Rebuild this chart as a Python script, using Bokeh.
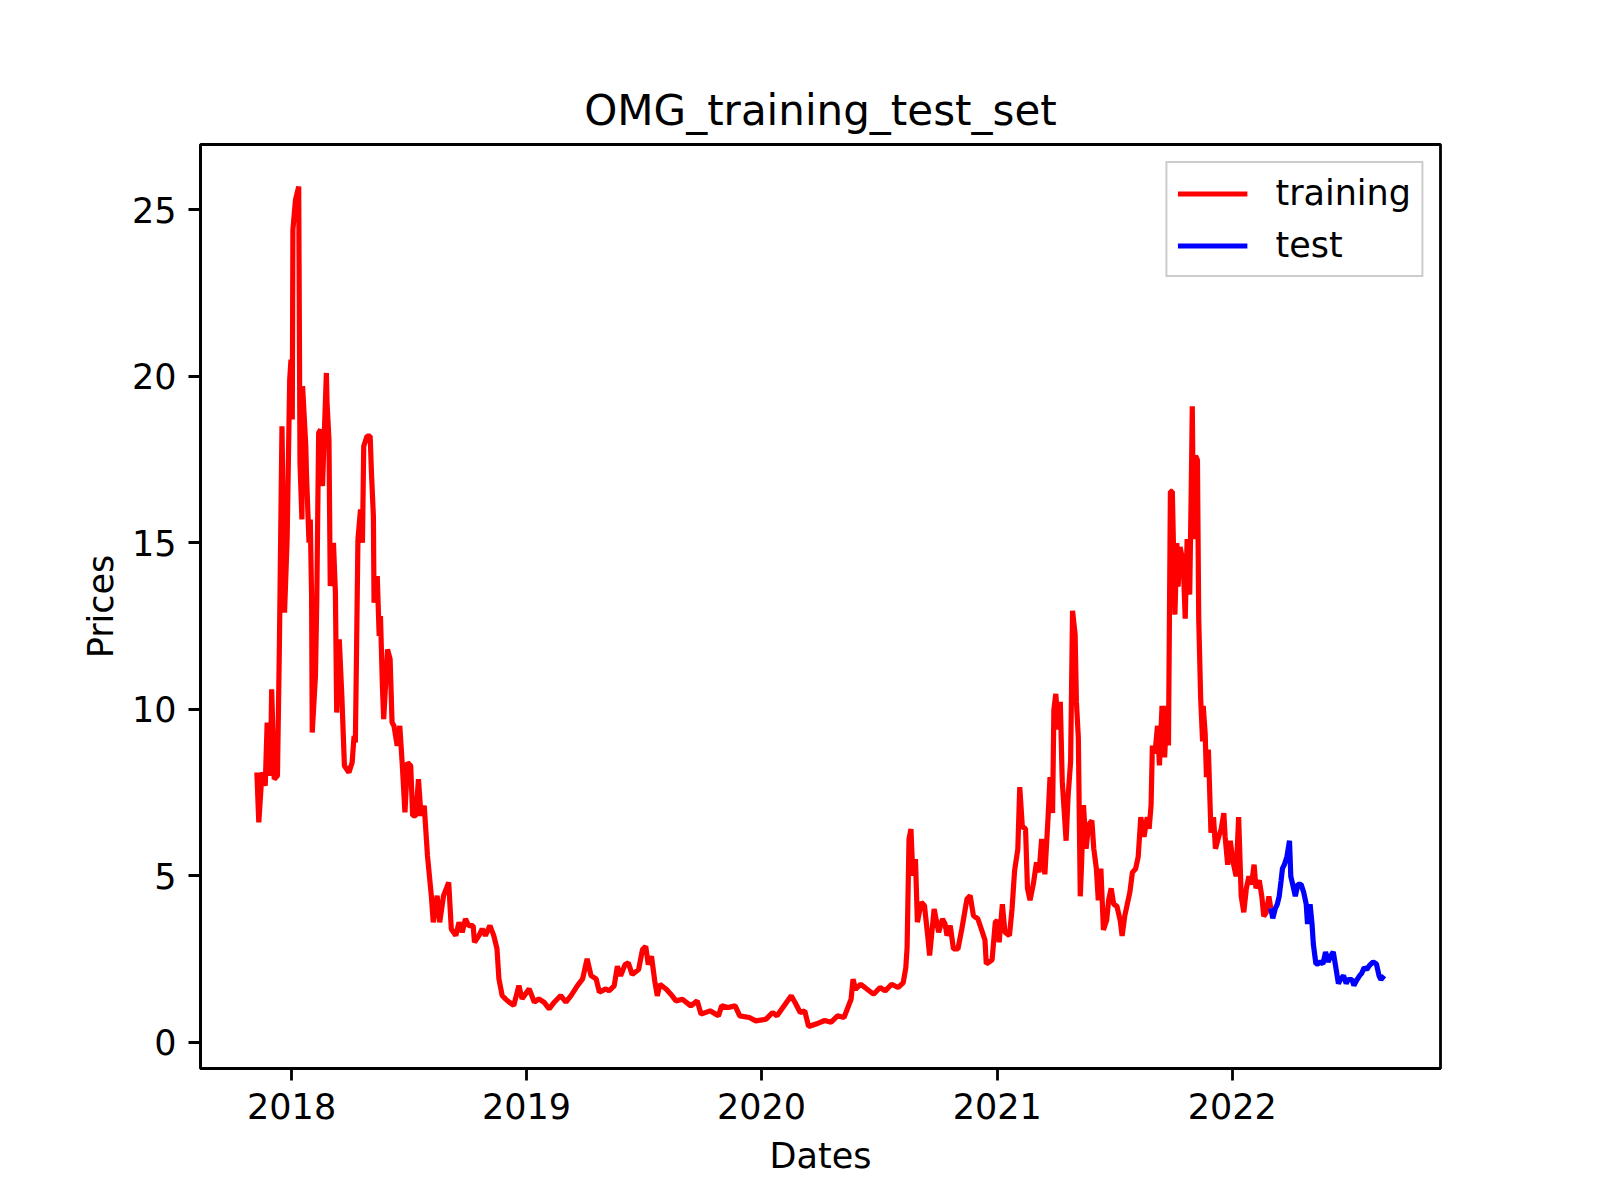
import pandas as pd
from bokeh.embed import file_html
from bokeh.models import DatetimeTickFormatter, FixedTicker, Legend, Range1d
from bokeh.plotting import figure
from bokeh.resources import INLINE

# day numbers are counted from this date
START_DATE = "2017-11-01"

train_days = [
    7, 10, 15, 20, 23, 28, 30, 34, 39, 42,
    46, 50, 54, 58, 60, 62, 63, 67, 72, 74,
    77, 78, 83, 84, 88, 90, 92, 93, 98, 100,
    103, 106, 109, 115, 116, 119, 121, 126, 129, 131,
    135, 139, 143, 150, 155, 158, 160, 162, 164, 168,
    171, 173, 178, 183, 185, 188, 189, 194, 197, 199,
    202, 204, 210, 214, 217, 220, 225, 229, 233, 237,
    241, 246, 249, 254, 258, 262, 267, 272, 278, 281,
    287, 291, 297, 305, 309, 316, 321, 326, 331, 336,
    343, 345, 352, 357, 362, 369, 375, 380, 383, 388,
    393, 399, 406, 414, 419, 430, 438, 445, 453, 461,
    469, 479, 487, 495, 505, 513, 520, 526, 534, 539,
    549, 554, 562, 567, 572, 579, 584, 590, 600, 606,
    611, 615, 620, 625, 629, 633, 643, 650, 658, 668,
    681, 691, 697, 711, 724, 729, 739, 750, 757, 772,
    782, 798, 808, 815, 826, 837, 843, 851, 858, 864,
    879, 889, 899, 909, 919, 924, 930, 933, 937, 945,
    955, 965, 975, 983, 993, 1003, 1011, 1015, 1017, 1020,
    1023, 1026, 1030, 1033, 1039, 1044, 1049, 1052, 1059, 1066,
    1072, 1076, 1079, 1084, 1089, 1096, 1102, 1110, 1115, 1120,
    1127, 1134, 1138, 1140, 1144, 1149, 1154, 1157, 1160, 1165,
    1169, 1176, 1180, 1184, 1189, 1192, 1196, 1201, 1204, 1208,
    1213, 1218, 1222, 1226, 1231, 1236, 1239, 1243, 1245, 1248,
    1252, 1255, 1258, 1264, 1267, 1271, 1274, 1278, 1280, 1283,
    1286, 1288, 1291, 1295, 1299, 1304, 1307, 1311, 1314, 1318,
    1322, 1327, 1330, 1334, 1338, 1343, 1348, 1351, 1355, 1359,
    1363, 1367, 1372, 1376, 1380, 1385, 1390, 1393, 1396, 1398,
    1402, 1406, 1409, 1413, 1417, 1421, 1423, 1426, 1429, 1433,
    1436, 1438, 1441, 1446, 1449, 1452, 1456, 1459, 1460, 1462,
    1465, 1468, 1470, 1473, 1476, 1477, 1480, 1482, 1485, 1489,
    1493, 1496, 1501, 1505, 1509, 1511, 1515, 1519, 1523, 1528,
    1532, 1536, 1540, 1544, 1548, 1552, 1556, 1559, 1564, 1568,
    1571, 1575, 1579, 1582,
]
train_prices = [
    8.1, 6.6, 8.1, 7.7, 9.6, 8.0, 10.6, 7.9, 8.0, 11.9,
    18.5, 12.9, 15.1, 19.9, 20.5, 18.7, 24.4, 25.3, 25.7, 17.4,
    15.7, 19.7, 17.9, 17.1, 15.0, 15.7, 13.4, 9.3, 11.0, 13.2,
    18.3, 18.4, 16.7, 20.1, 19.2, 18.1, 13.7, 15.0, 13.5, 9.9,
    12.1, 10.4, 8.3, 8.1, 8.4, 9.2, 9.0, 12.0, 15.1, 16.0,
    15.0, 17.9, 18.2, 18.2, 17.1, 15.8, 13.2, 14.0, 12.2, 12.8,
    10.7, 9.7, 11.8, 11.5, 9.6, 9.5, 8.9, 9.5, 8.3, 6.9,
    8.4, 8.3, 6.8, 6.8, 7.9, 6.8, 7.1, 5.6, 4.4, 3.6,
    4.4, 3.6, 4.4, 4.8, 3.4, 3.2, 3.6, 3.3, 3.7, 3.5,
    3.5, 3.0, 3.2, 3.4, 3.2, 3.5, 3.2, 2.8, 1.9, 1.4,
    1.3, 1.2, 1.1, 1.7, 1.3, 1.6, 1.2, 1.3, 1.2, 1.0,
    1.2, 1.4, 1.2, 1.4, 1.7, 1.9, 2.5, 2.0, 1.9, 1.5,
    1.6, 1.54, 1.69, 2.28, 1.99, 2.33, 2.38, 2.03, 2.18, 2.78,
    2.88, 2.33, 2.58, 1.84, 1.39, 1.74, 1.59, 1.44, 1.24, 1.29,
    1.09, 1.24, 0.84, 0.94, 0.79, 1.09, 1.04, 1.09, 0.79, 0.74,
    0.64, 0.69, 0.89, 0.79, 1.09, 1.39, 1.19, 0.89, 0.94, 0.47,
    0.57, 0.65, 0.6, 0.79, 0.74, 0.99, 1.29, 1.89, 1.59, 1.74,
    1.59, 1.44, 1.64, 1.54, 1.74, 1.64, 1.79, 2.23, 2.83, 6.1,
    6.4, 5.0, 5.5, 3.6, 4.2, 4.1, 3.2, 2.6, 4.0, 3.3,
    3.7, 3.55, 3.2, 3.5, 2.8, 2.8, 3.4, 4.3, 4.4, 3.8,
    3.7, 3.3, 3.06, 2.35, 2.4, 2.47, 3.6, 3.66, 3.0, 4.14,
    3.3, 3.2, 4.0, 5.15, 5.8, 7.66, 6.47, 6.41, 4.62, 4.26,
    4.74, 5.4, 5.1, 6.1, 5.04, 6.76, 7.96, 6.88, 9.98, 10.46,
    9.39, 10.22, 7.84, 6.05, 7.36, 8.43, 12.96, 12.25, 10.22, 9.15,
    4.38, 5.33, 7.12, 5.81, 6.53, 6.65, 5.81, 5.21, 4.26, 5.21,
    3.37, 3.66, 4.26, 4.62, 4.14, 4.08, 3.66, 3.19, 3.78, 4.14,
    4.5, 5.1, 5.21, 5.57, 6.76, 6.17, 6.76, 6.41, 7.12, 8.91,
    8.67, 9.5, 8.31, 10.1, 8.55, 10.1, 8.91, 16.54, 16.54, 12.84,
    14.99, 13.68, 14.87, 14.39, 12.72, 15.11, 13.44, 17.49, 19.1, 15.11,
    17.61, 17.49, 12.72, 10.34, 9.03, 10.1, 9.27, 7.96, 8.79, 6.29,
    6.76, 5.81, 6.17, 6.41, 6.88, 6.17, 5.33, 6.05, 5.45, 4.98,
    6.76, 4.38, 3.9, 4.62, 4.98, 4.74, 5.33, 4.62, 4.86, 4.38,
    3.78, 3.9, 4.38, 4.02,
]

test_days = [
    1582, 1585, 1589, 1592, 1595, 1598, 1600, 1603, 1607, 1611,
    1613, 1616, 1620, 1624, 1629, 1633, 1637, 1639, 1643, 1646,
    1648, 1652, 1655, 1659, 1663, 1667, 1671, 1675, 1679, 1683,
    1687, 1690, 1695, 1699, 1702, 1708, 1711, 1716, 1720, 1723,
    1727, 1731, 1735, 1741, 1746, 1750, 1753, 1758,
]
test_prices = [
    4.02, 3.72, 4.02, 4.14, 4.38, 4.86, 5.21, 5.33, 5.57, 6.05,
    4.98, 4.74, 4.38, 4.74, 4.74, 4.5, 4.14, 3.55, 4.14, 3.55,
    2.95, 2.35, 2.35, 2.41, 2.35, 2.71, 2.41, 2.59, 2.71, 2.24,
    1.76, 1.88, 2.0, 1.76, 1.88, 1.88, 1.7, 1.88, 2.0, 2.06,
    2.24, 2.18, 2.3, 2.41, 2.35, 2.0, 1.88, 2.0,
]

year_ticks = ["2018-01-01", "2019-01-01", "2020-01-01", "2021-01-01", "2022-01-01"]
price_ticks = [0, 5, 10, 15, 20, 25]

FONT = "DejaVu Sans"

start = pd.Timestamp(START_DATE)
train_dates = start + pd.to_timedelta(train_days, unit="D")
test_dates = start + pd.to_timedelta(test_days, unit="D")

# 5% padding around the data, like matplotlib's default margins
x0, x1 = train_dates.min(), test_dates.max()
xpad = (x1 - x0) * 0.05
all_prices = train_prices + test_prices
y0, y1 = min(all_prices), max(all_prices)
ypad = (y1 - y0) * 0.05

p = figure(width=1584, height=1184,
           x_axis_type="datetime",
           x_range=Range1d((x0 - xpad).to_pydatetime(), (x1 + xpad).to_pydatetime()),
           y_range=Range1d(y0 - ypad, y1 + ypad),
           title="OMG_training_test_set",
           toolbar_location=None,
           output_backend="svg",
           min_border_left=200, min_border_right=144,
           min_border_top=144, min_border_bottom=116)

r_train = p.line(train_dates, train_prices, color="red", line_width=5.2)
r_test = p.line(test_dates, test_prices, color="blue", line_width=5.2)

p.title.text_font = FONT
p.title.text_font_size = "42px"
p.title.text_font_style = "normal"
p.title.text_color = "black"
p.title.align = "center"
p.title.standoff = 20

p.xgrid.visible = False
p.ygrid.visible = False
p.outline_line_color = "black"
p.outline_line_width = 2.8
p.outline_line_alpha = 1.0

p.xaxis.ticker = FixedTicker(ticks=[pd.Timestamp(t).value / 1e6 for t in year_ticks])
p.xaxis.formatter = DatetimeTickFormatter(years="%Y", months="%Y", days="%Y",
                                          hours="%Y", minutes="%Y")
p.yaxis.ticker = FixedTicker(ticks=price_ticks)
p.xaxis.axis_label = "Dates"
p.yaxis.axis_label = "Prices"

for ax in (p.xaxis, p.yaxis):
    ax.axis_line_width = 2.8
    ax.axis_line_color = "black"
    ax.major_tick_line_width = 2.8
    ax.major_tick_line_color = "black"
    ax.major_tick_out = 12
    ax.major_tick_in = 0
    ax.minor_tick_line_color = None
    ax.major_label_text_font = FONT
    ax.major_label_text_font_size = "35px"
    ax.major_label_text_color = "black"
    ax.major_label_standoff = 12
    ax.axis_label_text_font = FONT
    ax.axis_label_text_font_size = "35px"
    ax.axis_label_text_font_style = "normal"
    ax.axis_label_text_color = "black"
    ax.axis_label_standoff = 14
p.yaxis.axis_label_standoff = 8

legend = Legend(items=[("training", [r_train]), ("test", [r_test])],
                location="top_right")
legend.label_text_font = FONT
legend.label_text_font_size = "35px"
legend.label_text_color = "black"
legend.label_height = 35
legend.label_standoff = 28
legend.glyph_width = 70
legend.glyph_height = 35
legend.spacing = 12
legend.padding = 10
legend.margin = 17
legend.border_line_color = "#cccccc"
legend.border_line_width = 2.5
legend.border_line_alpha = 1.0
legend.background_fill_alpha = 0.8
p.add_layout(legend)

open("out.html", "w").write(file_html(p, INLINE))
